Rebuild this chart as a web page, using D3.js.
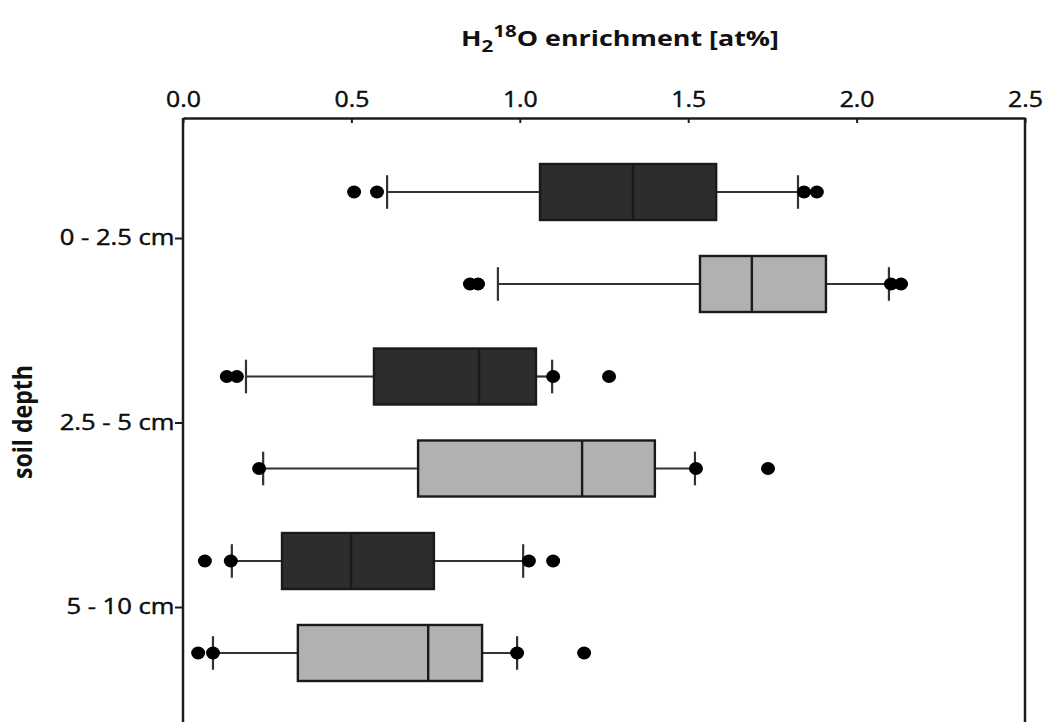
<!DOCTYPE html>
<html>
<head>
<meta charset="utf-8">
<script src="https://cdn.jsdelivr.net/npm/d3@7"></script>
<style>
  html, body { margin: 0; padding: 0; background: #ffffff; }
  svg { display: block; }
  text { font-family: "Open Sans", "Noto Sans", sans-serif; fill: #111; }
</style>
</head>
<body>
<svg id="chart" width="1048" height="722"></svg>
<script>
// ---- data ----
const categories = ["0 - 2.5 cm", "2.5 - 5 cm", "5 - 10 cm"];
const seriesNames = ["dark", "light"];
const xTicks = [0, 0.5, 1.0, 1.5, 2.0, 2.5];

// dark series
const darkWhiskerLow  = [0.606, 0.187, 0.145];
const darkQ1          = [1.060, 0.567, 0.294];
const darkMedian      = [1.336, 0.879, 0.499];
const darkQ3          = [1.583, 1.048, 0.745];
const darkWhiskerHigh = [1.826, 1.096, 1.010];
const darkOutliers    = [[0.508, 0.576, 1.844, 1.882], [0.130, 0.160, 1.099, 1.265], [0.065, 0.142, 1.027, 1.099]];

// light series
const lightWhiskerLow  = [0.935, 0.238, 0.089];
const lightQ1          = [1.535, 0.698, 0.341];
const lightMedian      = [1.689, 1.185, 0.728];
const lightQ3          = [1.909, 1.401, 0.888];
const lightWhiskerHigh = [2.096, 1.520, 0.992];
const lightOutliers    = [[0.852, 0.876, 2.102, 2.132], [0.226, 1.523, 1.737], [0.045, 0.089, 0.992, 1.191]];

// ---- build table ----
const seriesData = {
  dark:  {lo: darkWhiskerLow,  q1: darkQ1,  med: darkMedian,  q3: darkQ3,  hi: darkWhiskerHigh,  out: darkOutliers,  fill: "#2d2d2d"},
  light: {lo: lightWhiskerLow, q1: lightQ1, med: lightMedian, q3: lightQ3, hi: lightWhiskerHigh, out: lightOutliers, fill: "#b1b1b1"}
};
const boxes = [];
categories.forEach((c, i) => {
  seriesNames.forEach(s => {
    const d = seriesData[s];
    boxes.push({cat: c, series: s, lo: d.lo[i], q1: d.q1[i], med: d.med[i], q3: d.q3[i], hi: d.hi[i], out: d.out[i], fill: d.fill});
  });
});

const TX = 1.18; // horizontal text stretch
const svg = d3.select("#chart");
const plotLeft = 183, plotRight = 1025, plotTop = 118;

const x = d3.scaleLinear().domain([0, 2.5]).range([plotLeft, plotRight]);
const y = d3.scalePoint().domain(categories).range([238, 607]);
const sub = d3.scaleBand().domain(seriesNames).range([-92, 92]).paddingInner(0.391).paddingOuter(0.1957);
const bh = sub.bandwidth();

const stroke = "#1c1c1c";

// boxes
const g = svg.append("g");
const bx = g.selectAll("g.box").data(boxes).enter().append("g").attr("class", "box");
bx.each(function(d) {
  const sel = d3.select(this);
  const cy = y(d.cat) + sub(d.series) + bh / 2;
  // whiskers
  sel.append("line").attr("x1", x(d.lo)).attr("x2", x(d.q1)).attr("y1", cy).attr("y2", cy)
    .attr("stroke", "#333").attr("stroke-width", 2.2);
  sel.append("line").attr("x1", x(d.q3)).attr("x2", x(d.hi)).attr("y1", cy).attr("y2", cy)
    .attr("stroke", "#333").attr("stroke-width", 2.2);
  // caps
  [d.lo, d.hi].forEach(v => {
    sel.append("line").attr("x1", x(v)).attr("x2", x(v)).attr("y1", cy - bh * 0.3).attr("y2", cy + bh * 0.3)
      .attr("stroke", "#333").attr("stroke-width", 2.2);
  });
  // box
  sel.append("rect").attr("x", x(d.q1)).attr("y", cy - bh / 2).attr("width", x(d.q3) - x(d.q1)).attr("height", bh)
    .attr("fill", d.fill).attr("stroke", "#1a1a1a").attr("stroke-width", 2.4);
  sel.append("line").attr("x1", x(d.med)).attr("x2", x(d.med)).attr("y1", cy - bh / 2).attr("y2", cy + bh / 2)
    .attr("stroke", "#1a1a1a").attr("stroke-width", 2.4);
  // outliers
  sel.selectAll("ellipse").data(d.out).enter().append("ellipse")
    .attr("cx", v => x(v)).attr("cy", cy).attr("rx", 7).attr("ry", 6.5).attr("fill", "#000");
});

// frame
svg.append("line").attr("x1", plotLeft).attr("x2", plotLeft).attr("y1", plotTop).attr("y2", 740).attr("stroke", stroke).attr("stroke-width", 2.5);
svg.append("line").attr("x1", plotRight).attr("x2", plotRight).attr("y1", plotTop).attr("y2", 740).attr("stroke", stroke).attr("stroke-width", 2.5);

// top axis
const ax = svg.append("g").attr("transform", `translate(0,${plotTop})`)
  .call(d3.axisTop(x).tickValues(xTicks).tickFormat(d3.format(".1f")).tickSize(-5).tickSizeOuter(0).tickPadding(11));
ax.select(".domain").attr("stroke", stroke).attr("stroke-width", 2.5);
ax.selectAll(".tick line").attr("stroke", stroke).attr("stroke-width", 2);
ax.selectAll(".tick text").attr("font-size", 21).attr("font-family", "Open Sans").attr("fill", "#000")
  .attr("stroke", "#000").attr("stroke-width", 0.4)
  .attr("transform", `scale(${TX},1)`);

// left axis
const ay = svg.append("g").attr("transform", `translate(${plotLeft},0)`)
  .call(d3.axisLeft(y).tickSize(8).tickSizeOuter(0).tickPadding(2));
ay.select(".domain").remove();
ay.selectAll(".tick line").attr("stroke", stroke).attr("stroke-width", 2);
ay.selectAll(".tick text").attr("font-size", 21).attr("font-family", "Open Sans").attr("fill", "#000")
  .attr("stroke", "#000").attr("stroke-width", 0.4)
  .attr("x", -8.5 / 1.22)
  .attr("transform", `scale(1.22,1)`);

// title
const title = svg.append("text").attr("text-anchor", "middle").attr("font-weight", "bold").attr("font-size", 21)
  .attr("fill", "#000")
  .attr("transform", `translate(620,46) scale(1.28,1)`);
title.append("tspan").text("H");
title.append("tspan").attr("font-size", 16).attr("dy", 6).text("2");
title.append("tspan").attr("font-size", 16).attr("dy", -15).text("18");
title.append("tspan").attr("dy", 9).text("O enrichment [at%]");

// y label
svg.append("text").attr("text-anchor", "middle").attr("font-weight", "bold").attr("font-size", 21)
  .attr("fill", "#000")
  .attr("transform", `translate(32,422) rotate(-90) scale(1.1,1.25)`).text("soil depth");
</script>
</body>
</html>
